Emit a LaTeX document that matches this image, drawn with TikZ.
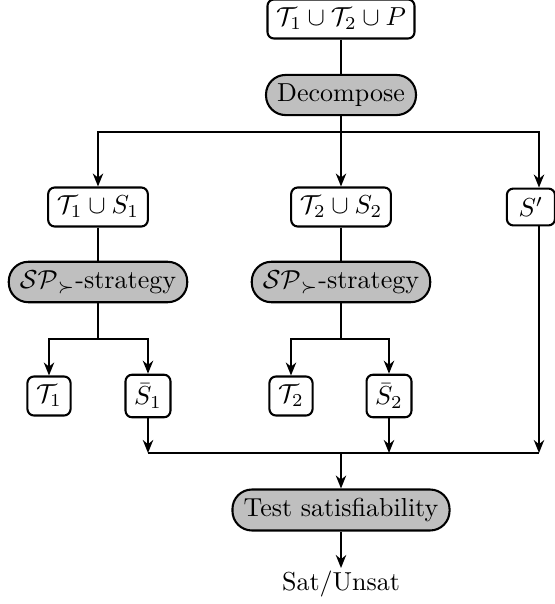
\documentclass[tikz,border=0pt]{standalone}
\usetikzlibrary{arrows.meta}
\begin{document}
\begin{tikzpicture}[x=0.3846pt,y=-0.3846pt,
  wbox/.style={draw,thick,rounded corners=2.5pt,fill=white,inner sep=3.33pt},
  gbox/.style={draw,thick,rounded corners=7.5pt,fill=black!25,inner ysep=3.33pt,inner xsep=4.3pt},
  arr/.style={thick,-{Stealth[length=5pt,width=4pt]}},
  ln/.style={thick}]
\useasboundingbox (0,0) rectangle (555,604);
\node[wbox] (top) at (341,19) {$\mathcal{T}_1\cup\mathcal{T}_2\cup P$};
\node[gbox] (dec) at (341,95) {Decompose};
\node[wbox] (ts1) at (98,207) {$\mathcal{T}_1\cup S_1$};
\node[wbox] (ts2) at (341,207) {$\mathcal{T}_2\cup S_2$};
\node[wbox,anchor=east,minimum width=18.5pt] (sp) at (556,207) {$S'$};
\node[gbox] (sp1) at (98,282) {$\mathcal{SP}_{\succ}$-strategy};
\node[gbox] (sp2) at (341,282) {$\mathcal{SP}_{\succ}$-strategy};
\node[wbox] (t1) at (49,396) {$\mathcal{T}_1$};
\node[wbox] (s1) at (148,396) {$\bar{S}_1$};
\node[wbox] (t2) at (291,396) {$\mathcal{T}_2$};
\node[wbox] (s2) at (389,396) {$\bar{S}_2$};
\node[gbox] (test) at (341,510) {Test satisfiability};
\node[inner sep=1pt,anchor=north] (res) at (341,568) {Sat/Unsat};
% branch coordinates
\coordinate (b0) at (341,132);
\coordinate (spx) at (539,132);
\coordinate (b1) at (98,339);
\coordinate (b2) at (341,339);
\coordinate (m0) at (341,453);
\coordinate (m1) at (148,453);
\coordinate (m2) at (389,453);
\coordinate (m3) at (539,453);
\draw[ln] (top) -- (dec);
\draw[ln] (dec) -- (b0);
\draw[arr] (b0) -| (ts1);
\draw[arr] (b0) -- (ts2);
\draw[arr] (b0) -- (spx) -- (spx |- sp.north);
\draw[ln] (ts1) -- (sp1);
\draw[ln] (ts2) -- (sp2);
\draw[ln] (sp1) -- (b1);
\draw[ln] (sp2) -- (b2);
\draw[arr] (b1) -| (t1);
\draw[arr] (b1) -| (s1);
\draw[arr] (b2) -| (t2);
\draw[arr] (b2) -| (s2);
\draw[ln] (m1) -- (m3);
\draw[arr] (s1) -- (m1);
\draw[arr] (s2) -- (m2);
\draw[arr] (spx |- sp.south) -- (m3);
\draw[arr] (m0) -- (test);
\draw[arr] (test) -- (res);
\end{tikzpicture}
\end{document}
